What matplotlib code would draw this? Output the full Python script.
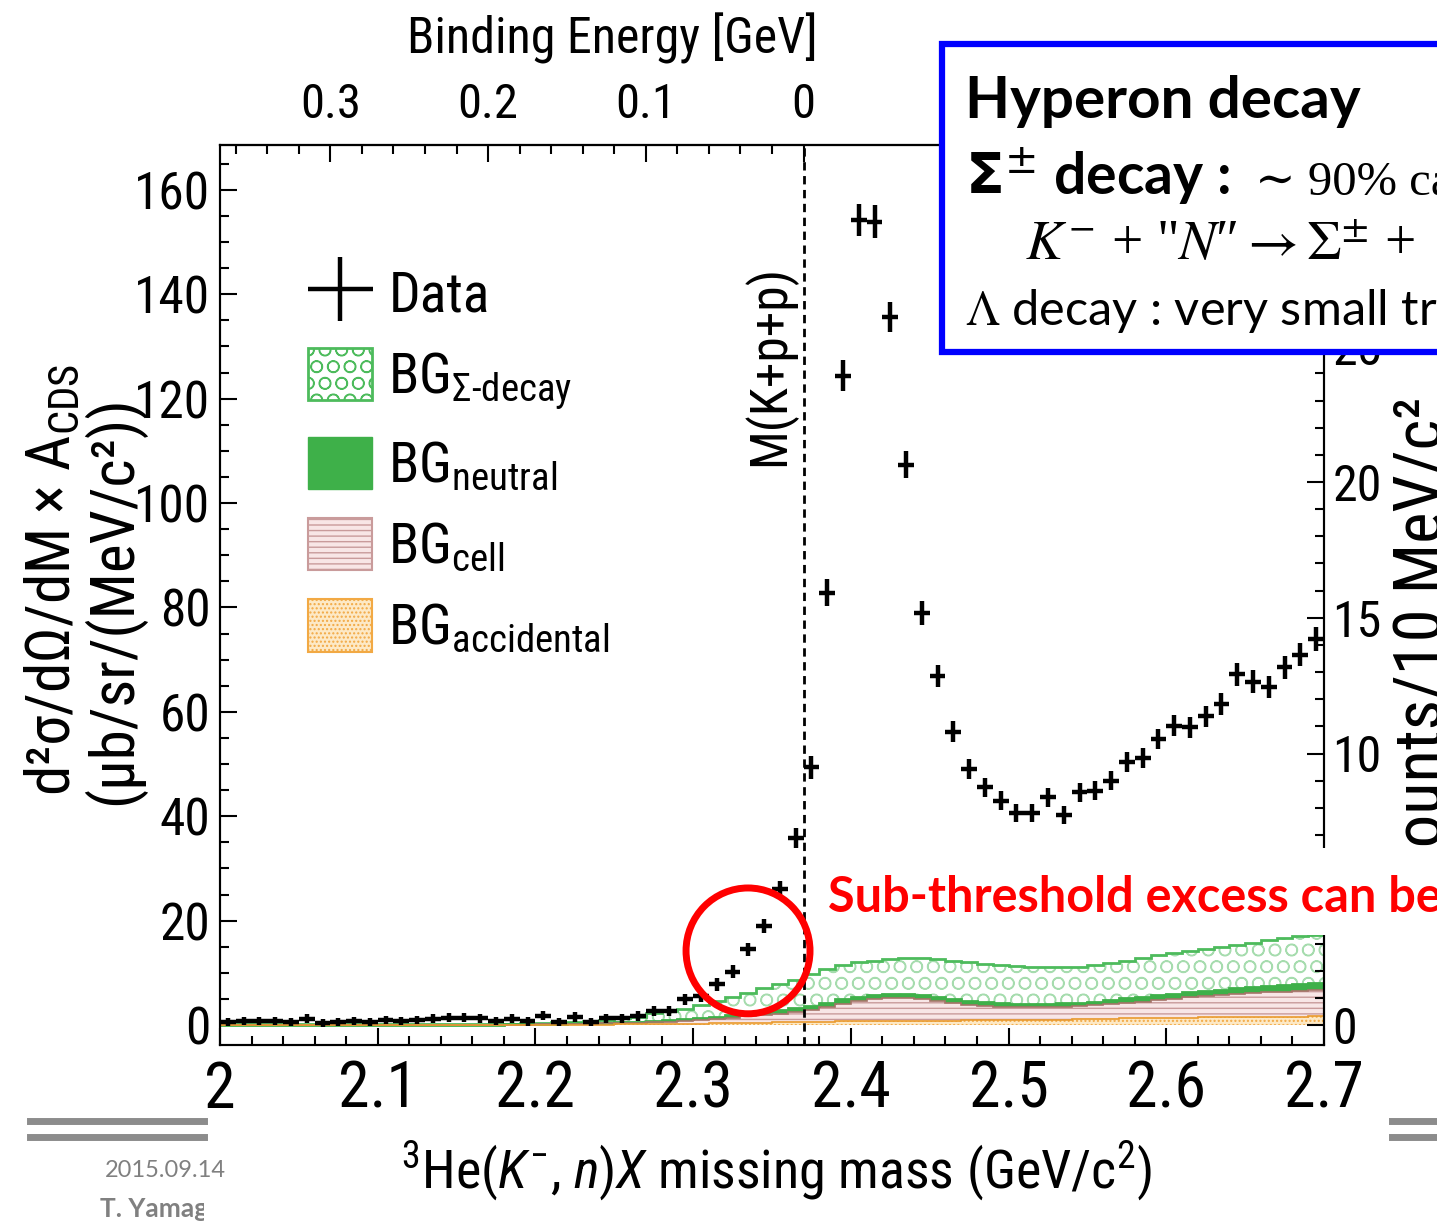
import numpy as np
import matplotlib
matplotlib.use("Agg")
import matplotlib.pyplot as plt
from matplotlib import font_manager
from matplotlib.patches import Patch, Rectangle, Ellipse
from matplotlib.lines import Line2D
from matplotlib.ticker import MultipleLocator, FixedLocator, FormatStrFormatter
from matplotlib.transforms import Bbox
from matplotlib.legend_handler import HandlerErrorbar
from matplotlib.container import ErrorbarContainer

W, H = 1437, 1222


# --- fonts: the original plot uses a narrow Helvetica, try to find a condensed sans ---
def pick_sans():
    fonts = font_manager.fontManager.ttflist
    names = {f.name for f in fonts}
    for p in ["Roboto Condensed", "Liberation Sans Narrow", "Open Sans Condensed",
              "Noto Sans Condensed", "DejaVu Sans Condensed", "Arial Narrow"]:
        if p in names:
            return p, "normal", True
    for f in fonts:
        if (f.name in ("Roboto", "DejaVu Sans", "Noto Sans", "Open Sans", "Liberation Sans")
                and f.stretch in ("condensed", "semi-condensed") and f.style == "normal"):
            return f.name, f.stretch, True
    return "Liberation Sans", "normal", False


SANS, STRETCH, NARROW = pick_sans()
S = 1.0 if NARROW else 0.85
plt.rcParams["font.family"] = [SANS, "DejaVu Sans"]
plt.rcParams["font.stretch"] = STRETCH
plt.rcParams["mathtext.fontset"] = "custom"
plt.rcParams["mathtext.rm"] = SANS
plt.rcParams["mathtext.it"] = SANS + ":italic"
plt.rcParams["mathtext.bf"] = SANS + ":bold"
plt.rcParams["mathtext.fallback"] = "stixsans"
plt.rcParams["hatch.linewidth"] = 1.0

# --- data: 10 MeV bins from 2.00 to 2.70 GeV/c^2 ---
M_LO, M_HI = 2.00, 2.70
M_THR = 2.370  # M(K+p+p)

data_y = [
    0.6, 0.8, 0.8, 0.8, 0.6, 1.2, 0.4, 0.6, 0.8, 0.6,
    0.9, 0.8, 1.0, 1.2, 1.4, 1.4, 1.3, 0.8, 1.2, 0.7,
    1.8, 0.6, 1.5, 0.6, 1.3, 1.3, 1.7, 2.7, 2.7, 4.9,
    5.6, 7.8, 10.2, 14.5, 19.0, 26.0, 35.8, 49.4, 82.8, 124.4,
    154.2, 153.9, 135.7, 107.3, 78.9, 66.9, 56.2, 49.0, 45.5, 43.0,
    40.6, 40.6, 43.6, 40.2, 44.6, 44.9, 46.8, 50.4, 51.2, 54.8,
    57.3, 57.0, 59.1, 61.5, 67.2, 65.8, 64.8, 68.5, 70.9, 73.9,
]
data_err = [
    0.8, 0.8, 0.8, 0.8, 0.8, 0.9, 0.8, 0.8, 0.8, 0.8,
    0.8, 0.8, 0.8, 0.9, 0.9, 0.9, 0.9, 0.8, 0.9, 0.8,
    0.9, 0.8, 0.9, 0.8, 0.9, 0.9, 0.9, 1.0, 1.0, 1.1,
    1.1, 1.2, 1.2, 1.3, 1.4, 1.6, 1.9, 2.2, 2.6, 2.9,
    3.1, 3.1, 2.9, 2.6, 2.3, 2.1, 2.0, 1.9, 1.8, 1.8,
    1.7, 1.7, 1.8, 1.7, 1.8, 1.8, 1.8, 1.9, 1.9, 2.0,
    2.0, 2.0, 2.0, 2.1, 2.2, 2.2, 2.1, 2.2, 2.2, 2.3,
]
# stacked background levels (top of stack after each component)
stack_sigma = [
    0.1, 0.1, 0.1, 0.1, 0.1, 0.1, 0.1, 0.1, 0.1, 0.1,
    0.1, 0.1, 0.1, 0.1, 0.1, 0.1, 0.15, 0.2, 0.25, 0.3,
    0.4, 0.5, 0.6, 0.8, 1.0, 1.3, 1.6, 2.3, 2.7, 3.1,
    3.8, 4.6, 5.4, 6.2, 7.0, 7.8, 8.7, 9.8, 10.8, 11.5,
    12.0, 12.3, 12.6, 12.8, 12.8, 12.6, 12.3, 12.0, 11.7, 11.5,
    11.3, 11.2, 11.1, 11.1, 11.2, 11.4, 11.8, 12.3, 12.9, 13.4,
    13.8, 14.2, 14.5, 14.9, 15.3, 15.7, 16.2, 16.6, 17.0, 17.3,
]
stack_neutral = [
    0.05, 0.05, 0.05, 0.05, 0.05, 0.05, 0.05, 0.05, 0.05, 0.05,
    0.05, 0.05, 0.05, 0.05, 0.06, 0.07, 0.08, 0.09, 0.1, 0.1,
    0.2, 0.25, 0.3, 0.35, 0.4, 0.5, 0.6, 0.7, 0.9, 1.1,
    1.3, 1.6, 1.9, 2.2, 2.5, 2.8, 3.2, 3.7, 4.3, 4.9,
    5.4, 5.8, 6.0, 6.0, 5.8, 5.4, 5.0, 4.6, 4.4, 4.2,
    4.1, 4.1, 4.1, 4.2, 4.3, 4.5, 4.8, 5.1, 5.4, 5.7,
    6.0, 6.3, 6.6, 6.8, 7.0, 7.2, 7.4, 7.6, 7.8, 8.0,
]
stack_cell = [
    0.03, 0.03, 0.03, 0.03, 0.03, 0.03, 0.03, 0.03, 0.03, 0.03,
    0.03, 0.03, 0.03, 0.03, 0.04, 0.04, 0.05, 0.05, 0.06, 0.06,
    0.12, 0.15, 0.2, 0.25, 0.3, 0.35, 0.42, 0.5, 0.65, 0.8,
    0.95, 1.2, 1.4, 1.65, 1.9, 2.15, 2.5, 2.9, 3.5, 4.1,
    4.6, 5.0, 5.2, 5.2, 5.0, 4.6, 4.2, 3.9, 3.7, 3.5,
    3.4, 3.4, 3.4, 3.5, 3.6, 3.8, 4.0, 4.3, 4.5, 4.8,
    5.0, 5.3, 5.5, 5.7, 5.9, 6.1, 6.3, 6.4, 6.6, 6.8,
]
stack_acc = [
    0.0, 0.0, 0.0, 0.0, 0.0, 0.0, 0.0, 0.0, 0.0, 0.0,
    0.0, 0.0, 0.0, 0.0, 0.0, 0.0, 0.0, 0.0, 0.0, 0.0,
    0.02, 0.03, 0.05, 0.06, 0.08, 0.1, 0.12, 0.15, 0.18, 0.2,
    0.25, 0.3, 0.35, 0.4, 0.45, 0.5, 0.55, 0.6, 0.65, 0.7,
    0.72, 0.75, 0.78, 0.8, 0.82, 0.84, 0.86, 0.88, 0.9, 0.92,
    0.95, 0.98, 1.0, 1.05, 1.1, 1.15, 1.2, 1.25, 1.3, 1.35,
    1.4, 1.42, 1.45, 1.5, 1.52, 1.55, 1.58, 1.6, 1.62, 1.65,
]

x_major = [2.0, 2.1, 2.2, 2.3, 2.4, 2.5, 2.6, 2.7]
be_major = [0.0, 0.1, 0.2, 0.3]
legend_labels = ["Data", r"BG$_{\Sigma\text{-decay}}$", r"BG$_{\mathrm{neutral}}$",
                 r"BG$_{\mathrm{cell}}$", r"BG$_{\mathrm{accidental}}$"]

# colours
C_SIG_LINE, C_SIG_HATCH = "#4dbb5c", "#a6dcae"
C_NEU = "#3eb049"
C_CELL_FACE, C_CELL_HATCH, C_CELL_LINE = "#f8e6e6", "#c99b9b", "#a57468"
C_ACC_FACE, C_ACC_HATCH, C_ACC_LINE = "#fde9c6", "#f2a944", "#e99a2e"


def fx(px):
    return px / W


def fy(py):
    return 1 - py / H


fig = plt.figure(figsize=(W / 100, H / 100), dpi=100)
fig.patch.set_facecolor("white")

# pixel geometry of the frame: x 220..1324, y 145..1045, y=0 at 1025
ax = fig.add_axes([fx(220), fy(1045), fx(1324) - fx(220), fy(145) - fy(1045)])
ax.set_xlim(M_LO, M_HI)
ax.set_ylim(-20 / 5.22, 880 / 5.22)

edges = np.linspace(M_LO, M_HI, len(data_y) + 1)
centers = 0.5 * (edges[:-1] + edges[1:])

# --- stacked backgrounds ---
ax.stairs(stack_sigma, edges, baseline=stack_neutral, fill=True, facecolor="white",
          edgecolor=C_SIG_HATCH, hatch="O", lw=0, zorder=1)
ax.stairs(stack_neutral, edges, baseline=stack_cell, fill=True, color=C_NEU, lw=0, zorder=1)
ax.stairs(stack_cell, edges, baseline=stack_acc, fill=True, facecolor=C_CELL_FACE,
          edgecolor=C_CELL_HATCH, hatch="---", lw=0, zorder=1)
ax.stairs(stack_acc, edges, baseline=0, fill=True, facecolor=C_ACC_FACE,
          edgecolor=C_ACC_HATCH, hatch="....", lw=0, zorder=1)
ax.stairs(stack_sigma, edges, baseline=None, color=C_SIG_LINE, lw=2.0, zorder=2)
ax.stairs(stack_neutral, edges, baseline=None, color=C_NEU, lw=2.0, zorder=2)
ax.stairs(stack_cell, edges, baseline=None, color=C_CELL_LINE, lw=1.2, zorder=2)
ax.stairs(stack_acc, edges, baseline=None, color=C_ACC_LINE, lw=1.2, zorder=2)

# --- data ---
eb = ax.errorbar(centers, data_y, xerr=0.005, yerr=data_err, fmt="none",
                 ecolor="black", elinewidth=3.2, capsize=0, zorder=6)

# threshold line
ax.axvline(M_THR, color="black", lw=2.0, ls=(0, (3, 2)), zorder=4)
ax.text(2.3485, 126.4, "M(K+p+p)", rotation=90, ha="center", va="center", fontsize=37 * S)

# --- axes styling ---
for sp in ax.spines.values():
    sp.set_linewidth(1.5)
ax.xaxis.set_major_locator(FixedLocator(x_major))
ax.xaxis.set_minor_locator(MultipleLocator(0.02))
ax.xaxis.set_major_formatter(FormatStrFormatter("%g"))
ax.yaxis.set_major_locator(MultipleLocator(20))
ax.yaxis.set_minor_locator(MultipleLocator(5))
ax.tick_params(which="both", direction="in", width=1.5, top=False, right=False)
ax.tick_params(which="major", length=12)
ax.tick_params(which="minor", length=6.5)
ax.tick_params(axis="x", labelsize=46 * S, pad=10)
ax.tick_params(axis="y", labelsize=37 * S, pad=7)

# right axis (counts)
ax2 = ax.twinx()
ax2.set_ylim(-20 / 27.15, 880 / 27.15)
ax2.yaxis.set_major_locator(MultipleLocator(5))
ax2.yaxis.set_minor_locator(MultipleLocator(1))
ax2.tick_params(which="both", direction="in", width=1.5, labelsize=36 * S, pad=6)
ax2.tick_params(which="major", length=12)
ax2.tick_params(which="minor", length=6.5)
for sp in ax2.spines.values():
    sp.set_linewidth(1.5)

# top axis: binding energy
secax = ax.secondary_xaxis("top", functions=(lambda m: M_THR - m, lambda b: M_THR - b))
secax.xaxis.set_major_locator(FixedLocator(be_major))
secax.xaxis.set_minor_locator(FixedLocator(
    [b for b in np.round(np.arange(0.02, 0.37, 0.02), 2) if b not in be_major]))
secax.xaxis.set_major_formatter(FormatStrFormatter("%g"))
secax.tick_params(which="both", direction="in", width=1.5, labelsize=35 * S, pad=12)
secax.tick_params(which="major", length=12)
secax.tick_params(which="minor", length=6.5)
secax.spines["top"].set_linewidth(1.5)

# --- legend ---
handles = [
    eb,
    Patch(facecolor="white", edgecolor=C_SIG_LINE, hatch="O", lw=2),
    Patch(facecolor=C_NEU, edgecolor=C_NEU, lw=1),
    Patch(facecolor=C_CELL_FACE, edgecolor=C_CELL_HATCH, hatch="---", lw=1.5),
    Patch(facecolor=C_ACC_FACE, edgecolor=C_ACC_HATCH, hatch="....", lw=1.5),
]
LEG_FS = 40 * S
LEG_PX = LEG_FS * 100 / 72
ax.legend(handles, legend_labels, loc="upper left", bbox_to_anchor=(0.08, 0.865),
          frameon=False, fontsize=LEG_FS, borderpad=0, borderaxespad=0,
          handlelength=64 / LEG_PX, handleheight=60 / LEG_PX,
          handletextpad=16 / LEG_PX, labelspacing=0.45,
          handler_map={ErrorbarContainer: HandlerErrorbar(xerr_size=0.58)})

# --- axis titles ---
fig.text(fx(776), fy(1140), r"$^{3}$He($K^{-}$, $n$)$X$ missing mass (GeV/c$^{2}$)",
         ha="center", va="top", fontsize=39 * S)
fig.text(fx(612), fy(38), "Binding Energy [GeV]", ha="center", va="center", fontsize=36 * S)
fig.text(fx(52), fy(580), r"d²σ/dΩ/dM × A$_{\mathrm{CDS}}$", rotation=90,
         ha="center", va="center", fontsize=44 * S)
fig.text(fx(113), fy(600), "(μb/sr/(MeV/c²))", rotation=90,
         ha="center", va="center", fontsize=44 * S)
fig.text(fx(1425), fy(885), "Counts/10 MeV/c²", rotation=90,
         ha="center", va="bottom", fontsize=48 * S)

# --- red circle on the sub-threshold region ---
ax.add_patch(Ellipse((2.3348, 14.2), 0.0786, 24.1, fill=False, ec="#ff0000",
                     lw=5, zorder=10, clip_on=False))

# --- red note with white backing ---
fig.add_artist(Rectangle((fx(818), fy(935)), fx(W + 10) - fx(818), fy(848) - fy(935),
                         transform=fig.transFigure, facecolor="white", edgecolor="none",
                         zorder=5))
fig.text(fx(828), fy(912), "Sub-threshold excess can be", color="#ff0000",
         fontsize=35, fontweight="bold", family=["Lato", "DejaVu Sans"],
         va="baseline", zorder=6)

# --- blue box ---
fig.add_artist(Rectangle((fx(942), fy(352)), fx(W + 20) - fx(942), fy(44) - fy(352),
                         transform=fig.transFigure, facecolor="white", edgecolor="#0000ff",
                         lw=4.5, zorder=7))
fig.text(fx(965), fy(118), "Hyperon decay", fontsize=42, fontweight="bold",
         family=["Lato", "DejaVu Sans"], va="baseline", zorder=8)
fig.text(fx(965), fy(195), r"$\mathbf{\Sigma}^{\pm}$ decay :", fontsize=41, fontweight="bold",
         family=["Lato", "DejaVu Sans"], math_fontfamily="dejavusans",
         va="baseline", zorder=8)
fig.text(fx(1255), fy(195), "∼ 90% ca", fontsize=35,
         family=["Liberation Serif", "DejaVu Serif"], va="baseline", zorder=8)
fig.text(fx(1025), fy(260), '$K^{-}$ + "$N$″$\\rightarrow \\Sigma^{\\pm}$ +',
         fontsize=40, family=["Liberation Serif", "DejaVu Serif"],
         math_fontfamily="stix", va="baseline", zorder=8)
fig.text(fx(965), fy(325), r"$\mathrm{\Lambda}$ decay : very small tr", fontsize=35,
         family=["Lato", "DejaVu Sans"], math_fontfamily="stix", va="baseline", zorder=8)

# --- slide footer pieces ---
for yy in (1121, 1137):
    fig.add_artist(Line2D([fx(30), fx(204)], [fy(yy), fy(yy)], color="#8c8c8c",
                          lw=5, transform=fig.transFigure, zorder=1))
    fig.add_artist(Line2D([fx(1392), fx(W)], [fy(yy), fy(yy)], color="#8c8c8c",
                          lw=5, transform=fig.transFigure, zorder=1))
fig.text(fx(105), fy(1177), "2015.09.14", color="#808080", fontsize=17, va="baseline",
         family=["Lato", "DejaVu Sans"])
t = fig.text(fx(100), fy(1217), "T. Yamaga", color="#808080", fontsize=19,
             fontweight="bold", va="baseline", family=["Lato", "DejaVu Sans"])
t.set_clip_box(Bbox([[0, 0], [204, H]]))
t.set_clip_on(True)

fig.savefig("out.png", dpi=100)
